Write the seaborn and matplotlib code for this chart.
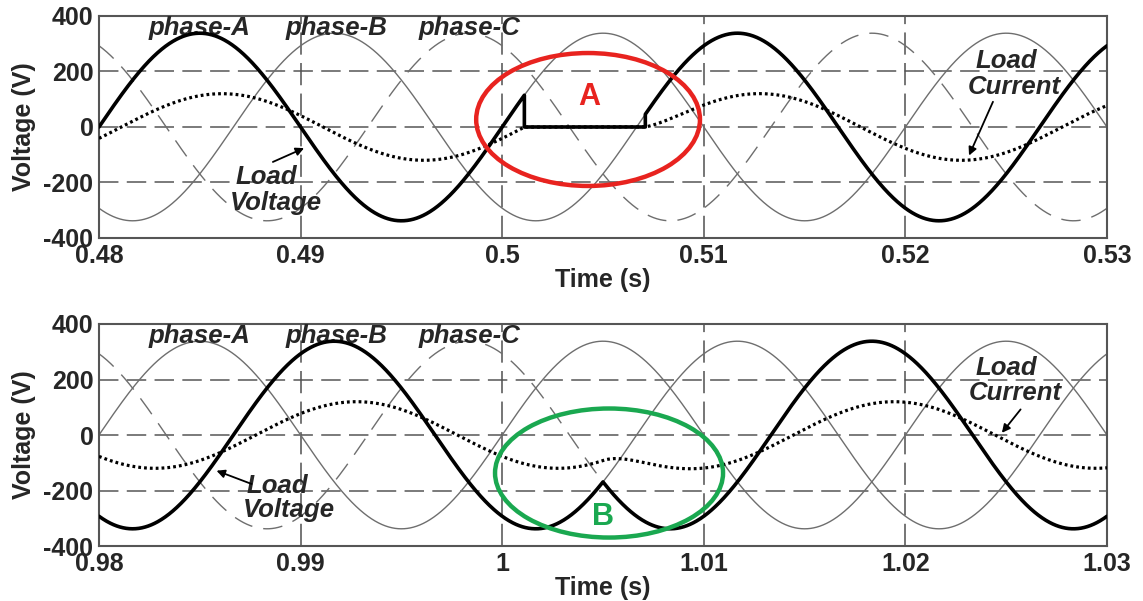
import numpy as np
import pandas as pd
import matplotlib
matplotlib.use("Agg")
import matplotlib.pyplot as plt
from matplotlib.patches import Ellipse
import seaborn as sns

sns.set_style("white")
plt.rcParams['font.family'] = ['Liberation Sans', 'DejaVu Sans']
plt.rcParams['lines.scale_dashes'] = False

# supply parameters
freq = 50.0          # Hz
v_peak = 338.0       # phase voltage peak (V)
i_peak = 120.0       # load current peak, drawn on the V axis
lag_deg = 20.0       # load current lags the load voltage
phase_shift = {'A': 0.0, 'B': -120.0, 'C': 120.0}

# which phase feeds the load in each interval (None = voltage dropped out)
top_switch = [0.48, 0.5011, 0.5071, 0.53]
top_source = ['A', None, 'B']
bot_switch = [0.98, 1.005, 1.03]
bot_source = ['B', 'C']

top_ticks = [0.48, 0.49, 0.50, 0.51, 0.52, 0.53]
top_ticklabels = ['0.48', '0.49', '0.5', '0.51', '0.52', '0.53']
bot_ticks = [0.98, 0.99, 1.00, 1.01, 1.02, 1.03]
bot_ticklabels = ['0.98', '0.99', '1', '1.01', '1.02', '1.03']
y_ticks = [-400, -200, 0, 200, 400]

w = 2 * np.pi * freq
tau = np.tan(np.radians(lag_deg)) / w


def phase_v(t, p):
    return v_peak * np.sin(w * t + np.radians(phase_shift[p]))


def steady_i(t, p):
    if p is None:
        return np.zeros_like(t)
    return i_peak * np.sin(w * t + np.radians(phase_shift[p] - lag_deg))


def build_panel(switch, source):
    t_all = np.linspace(switch[0], switch[-1], 3000)
    rows = []
    for p in ['A', 'B', 'C']:
        rows.append(pd.DataFrame({'time': t_all, 'value': phase_v(t_all, p), 'trace': 'phase-' + p}))
    ts, vs, cs = [], [], []
    i0 = float(steady_i(np.array([switch[0]]), source[0])[0])
    for k, p in enumerate(source):
        t0, t1 = switch[k], switch[k + 1]
        t = np.linspace(t0, t1, 800)
        v = phase_v(t, p) if p is not None else np.zeros_like(t)
        s0 = float(steady_i(np.array([t0]), p)[0])
        i = steady_i(t, p) + (i0 - s0) * np.exp(-(t - t0) / tau)
        i0 = i[-1]
        ts.append(t); vs.append(v); cs.append(i)
    t = np.concatenate(ts)
    rows.append(pd.DataFrame({'time': t, 'value': np.concatenate(vs), 'trace': 'load voltage'}))
    rows.append(pd.DataFrame({'time': t, 'value': np.concatenate(cs), 'trace': 'load current'}))
    return pd.concat(rows, ignore_index=True)


fig = plt.figure(figsize=(11.43, 6.01), dpi=100)
ax_top = fig.add_axes([0.0866, 0.6040, 0.8819, 0.3694])
ax_bot = fig.add_axes([0.0866, 0.0915, 0.8819, 0.3694])

panels = [
    (ax_top, build_panel(top_switch, top_source), top_ticks, top_ticklabels),
    (ax_bot, build_panel(bot_switch, bot_source), bot_ticks, bot_ticklabels),
]

grey = '#6e6e6e'
lab_kw = dict(ha='center', va='center', fontsize=18.5, fontweight='bold', style='italic')
for ax, df, ticks, labels in panels:
    for y in [-200, 0, 200]:
        ax.axhline(y, color='#707070', lw=1.3, dashes=(14, 6), zorder=1)
    for x in ticks[1:-1]:
        ax.axvline(x, color='#505050', lw=1.1, dashes=(16, 6), zorder=1)

    for name in ['phase-A', 'phase-B']:
        sns.lineplot(data=df[df.trace == name], x='time', y='value', ax=ax,
                     color=grey, lw=1.0, estimator=None, sort=False, zorder=2)
    sns.lineplot(data=df[df.trace == 'phase-C'], x='time', y='value', ax=ax,
                 color=grey, lw=1.0, estimator=None, sort=False, zorder=2)
    ax.lines[-1].set_dashes((14, 8))
    sns.lineplot(data=df[df.trace == 'load current'], x='time', y='value', ax=ax,
                 color='black', lw=2.3, estimator=None, sort=False, zorder=3)
    ax.lines[-1].set_dashes((2.0, 2.2))
    sns.lineplot(data=df[df.trace == 'load voltage'], x='time', y='value', ax=ax,
                 color='black', lw=2.6, estimator=None, sort=False, zorder=4)

    ax.set_xlim(ticks[0], ticks[-1])
    ax.set_ylim(-400, 400)
    ax.set_xticks(ticks)
    ax.set_xticklabels(labels)
    ax.set_yticks(y_ticks)
    ax.set_yticklabels([str(v) for v in y_ticks])
    ax.tick_params(axis='both', labelsize=18, direction='in', length=4, width=1,
                   color='#444444', pad=4)
    for lab in ax.get_xticklabels() + ax.get_yticklabels():
        lab.set_fontweight('bold')
    ax.set_xlabel('Time (s)', fontsize=18, fontweight='bold', labelpad=0)
    ax.set_ylabel('Voltage (V)', fontsize=18, fontweight='bold', labelpad=5)
    for sp in ax.spines.values():
        sp.set_color('#555555')
        sp.set_linewidth(1.5)

    t0 = ticks[0]
    for x, s in zip([0.0050, 0.0118, 0.0184], ['phase-A', 'phase-B', 'phase-C']):
        ax.text(t0 + x, 357, s, **lab_kw)

# top panel annotations
ax_top.text(0.48828, -180, 'Load', **lab_kw)
ax_top.text(0.48878, -274, 'Voltage', **lab_kw)
ax_top.annotate('', xy=(0.4903, -72), xytext=(0.4885, -130),
                arrowprops=dict(arrowstyle='-|>', color='black', lw=1.3, mutation_scale=12))
ax_top.text(0.52499, 238, 'Load', **lab_kw)
ax_top.text(0.52539, 144, 'Current', **lab_kw)
ax_top.annotate('', xy=(0.5231, -112), xytext=(0.5244, 100),
                arrowprops=dict(arrowstyle='-|>', color='black', lw=1.3, mutation_scale=12))
ax_top.add_patch(Ellipse((0.50426, 27), 0.0111, 479, fill=False, ec='#e8231f', lw=3.2, zorder=6))
ax_top.text(0.5043, 108, 'A', color='#e8231f', ha='center', va='center', fontsize=22,
            fontweight='bold', zorder=6)

# bottom panel annotations
ax_bot.text(0.98883, -184, 'Load', **lab_kw)
ax_bot.text(0.98942, -270, 'Voltage', **lab_kw)
ax_bot.annotate('', xy=(0.9857, -125), xytext=(0.9877, -180),
                arrowprops=dict(arrowstyle='-|>', color='black', lw=1.3, mutation_scale=12))
ax_bot.text(1.02499, 241, 'Load', **lab_kw)
ax_bot.text(1.02544, 151, 'Current', **lab_kw)
ax_bot.annotate('', xy=(1.0247, 0), xytext=(1.0258, 100),
                arrowprops=dict(arrowstyle='-|>', color='black', lw=1.3, mutation_scale=12))
ax_bot.add_patch(Ellipse((1.0053, -137), 0.01131, 465, fill=False, ec='#1aa850', lw=3.2, zorder=6))
ax_bot.text(1.0050, -295, 'B', color='#1aa850', ha='center', va='center', fontsize=22,
            fontweight='bold', zorder=6)

fig.savefig('out.png', dpi=100)
